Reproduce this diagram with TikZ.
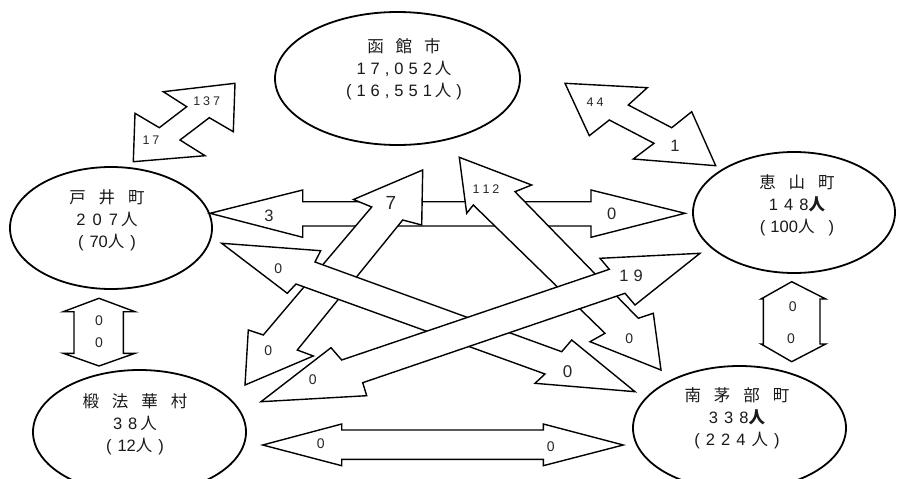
\documentclass[tikz,border=0pt]{standalone}
\usepackage{fontspec}
\setmainfont{Liberation Sans}
\newfontfamily\jp{Noto Sans CJK JP}
\usetikzlibrary{shapes.geometric}
\tikzset{
  town/.style={ellipse, draw, line width=1.8pt, fill=white, inner sep=0pt},
  blk/.style={draw, fill=white, line width=1.4pt, line join=miter},
  lab/.style={inner sep=0pt, text=black!85},
  ttext/.style={align=center, font=\fontsize{16.5}{22}\selectfont, inner sep=0pt, text=black!90},
  fa/.style={font=\fontsize{12.5}{14}\selectfont},
  fb/.style={font=\fontsize{14}{16}\selectfont},
  fc/.style={font=\fontsize{16.5}{18}\selectfont},
  fd/.style={font=\fontsize{19}{21}\selectfont}
}
\newcommand\hs[1]{\hspace{#1pt}}
\begin{document}
\begin{tikzpicture}[x=1pt,y=-1pt]
\useasboundingbox (0,0) rectangle (898,479);
\fill[white] (0,0) rectangle (898,479);
% towns
\node[town, minimum width=245pt, minimum height=133pt] (hak) at (397.5,78.5) {};
\node[town, minimum width=202pt, minimum height=122pt] (toi) at (111,228) {};
\node[town, minimum width=202pt, minimum height=121pt] (esa) at (794,212.5) {};
\node[town, minimum width=213pt, minimum height=124pt] (tod) at (139.5,432) {};
\node[town, minimum width=213pt, minimum height=124pt] (min) at (739.5,428) {};
\node[ttext] (hakt) at (404,69) {{\jp 函}\hs{12}{\jp 館}\hs{12}{\jp 市}\\
  1\hs{5}7\hs{5},\hs{5}0\hs{5}5\hs{5}2\hs{3}{\jp 人}\\
  (\hs{5}1\hs{5}6\hs{5},\hs{5}5\hs{5}5\hs{5}1\hs{3}{\jp 人}\hs{5})};
\node[ttext] (toit) at (107,220) {{\jp 戸}\hs{13}{\jp 井}\hs{13}{\jp 町}\\
  2\hs{7}0\hs{7}7\hs{3}{\jp 人}\\
  (\hs{6}70{\jp 人}\hs{6})};
\node[ttext] (esat) at (797,205) {{\jp 恵}\hs{13}{\jp 山}\hs{13}{\jp 町}\\
  1\hs{6}4\hs{6}8{\jp\bfseries 人}\\
  (\hs{5}100{\jp 人}\hs{14})};
\node[ttext] (todt) at (135,424) {{\jp 椴}\hs{13}{\jp 法}\hs{13}{\jp 華}\hs{13}{\jp 村}\\
  3\hs{6}8\hs{3}{\jp 人}\\
  (\hs{6}12{\jp 人}\hs{6})};
\node[ttext] (mint) at (737,418) {{\jp 南}\hs{13}{\jp 茅}\hs{13}{\jp 部}\hs{13}{\jp 町}\\
  3\hs{6}3\hs{6}8{\jp\bfseries 人}\\
  (\hs{6}2\hs{6}2\hs{6}4\hs{6}{\jp 人}\hs{6})};
% A: Toi <-> Hakodate
\draw[blk] (163.3,91.7) -- (235,83.3) -- (233.3,131.7) -- (209.3,117.7) -- (180,140) -- (205,155.7) -- (133.3,161.7) -- (135,113.3) -- (159.3,127.7) -- (186.7,106.7) -- cycle;
\node[lab,fa] (a1) at (206.7,101) {1\hs{3}3\hs{3}7};
\node[lab,fa] (a2) at (151,140) {1\hs{3}7};
% B: Hakodate <-> Esan
\draw[blk] (565,83.3) -- (647.3,87.7) -- (628.3,105) -- (671.7,127.7) -- (691.7,111.7) -- (715.7,165.7) -- (633.3,159) -- (654,143.3) -- (609.3,120) -- (589.3,135.7) -- cycle;
\node[lab,fa] (b1) at (595,101.7) {4\hs{3}4};
\node[lab,fc] (b2) at (675,146) {1};
% H: Toi <-> Todohokke
\draw[blk] (99,298.3) -- (135,311.7) -- (123.3,311.7) -- (123.3,353.3) -- (135,353.3) -- (99,366) -- (63.3,353.3) -- (74,353.3) -- (74,311.7) -- (63.3,311.7) -- cycle;
\node[lab,fb] (h1) at (99,320.7) {0};
\node[lab,fb] (h2) at (99,342.7) {0};
% I: Esan <-> Minamikayabe
\draw[blk] (791.7,281.7) -- (825.7,299) -- (820,299) -- (820,344) -- (825.7,344) -- (791.7,361.7) -- (761,344) -- (763.3,344) -- (763.3,299) -- (761,299) -- cycle;
\node[lab,fb] (i1) at (792.7,306.7) {0};
\node[lab,fb] (i2) at (791,339) {0};
% J: Todohokke <-> Minamikayabe
\draw[blk] (262.7,445) -- (341.7,424) -- (341.7,430) -- (543.3,430) -- (543.3,424) -- (623.3,445) -- (543.3,465.7) -- (543.3,459.3) -- (341.7,459.3) -- (341.7,465.7) -- cycle;
\node[lab,fb] (j1) at (320.7,444) {0};
\node[lab,fb] (j2) at (550.7,446.7) {0};
% C: Toi <-> Esan
\draw[blk] (210,213.3) -- (302.7,190) -- (302.7,201.7) -- (591,201.7) -- (591,190) -- (685,213.3) -- (591,237.3) -- (591,226) -- (302.7,226) -- (302.7,237.3) -- cycle;
\node[lab,fc] (c1) at (269,215.7) {3};
\node[lab,fc] (c2) at (611.7,214.3) {0};
% D: Hakodate <-> Todohokke
\draw[blk] (422.7,170) -- (421.7,225) -- (402.7,220) -- (297.3,350) -- (313.3,356) -- (245,385) -- (248.3,330) -- (263.3,335) -- (371.7,207) -- (353.5,199.5) -- cycle;
\node[lab,fd] (d1) at (391,203.3) {7};
\node[lab,fb] (d2) at (268.3,350.7) {0};
% F: Hakodate <-> Minamikayabe
\draw[blk] (459.3,157.3) -- (531.7,185) -- (515,191.7) -- (638.3,318.3) -- (653.3,313.3) -- (661,370) -- (590,341.7) -- (605,333.3) -- (473.3,205) -- (466.7,213.3) -- cycle;
\node[lab,fa] (f1) at (486,189.3) {1\hs{3}1\hs{3}2};
\node[lab,fb] (f2) at (629.3,339) {0};
% E: Toi <-> Minamikayabe
\draw[blk] (221.7,243.3) -- (320.7,250.7) -- (315,262) -- (561.7,351.7) -- (571.7,340) -- (635,391.7) -- (535,383.3) -- (545,374) -- (296,284) -- (287.3,293.3) -- cycle;
\node[lab,fb] (e1) at (278.3,268.3) {0};
\node[lab,font=\fontsize{17}{19}\selectfont] (e2) at (567.7,371.7) {0};
% G: Esan <-> Todohokke
\draw[blk] (700,253.3) -- (635,305) -- (625,293.3) -- (362.7,382.7) -- (366.7,395.7) -- (261,401.7) -- (331,347.7) -- (341.7,360) -- (609.3,269.3) -- (600,258.3) -- cycle;
\node[lab,fc] (g1) at (631,276) {1\hs{5}9};
\node[lab,fb] (g2) at (312.7,380) {0};
\end{tikzpicture}
\end{document}
